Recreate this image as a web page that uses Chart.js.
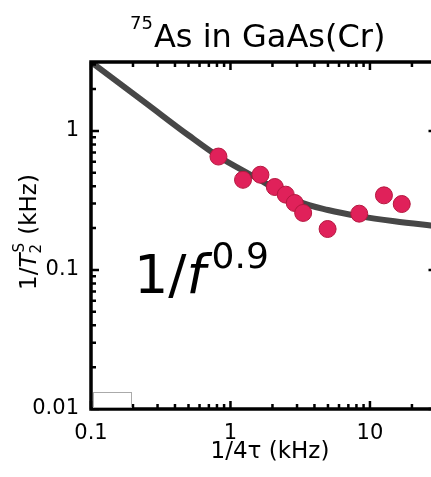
<!DOCTYPE html>
<html>
<head>
<meta charset="utf-8">
<script src="https://cdn.jsdelivr.net/npm/chart.js@4/dist/chart.umd.min.js"></script>
<style>
  body { margin: 0; overflow: hidden; background: #fff; }
  #wrap { width: 446px; height: 477px; }
</style>
</head>
<body>
<div id="wrap"><canvas id="chart" width="446" height="477"></canvas></div>
<script>
// measured points: 1/4tau (kHz) vs 1/T2 (kHz)
const freq = [0.82, 1.23, 1.64, 2.08, 2.49, 2.89, 3.32, 4.97, 8.38, 12.6, 16.9];
const rate = [0.654, 0.445, 0.484, 0.395, 0.348, 0.303, 0.257, 0.197, 0.254, 0.344, 0.298];

// fitted 1/f^0.9 curve
const fitFreq = [0.1, 0.25, 0.5, 0.81, 1.5, 3.1, 5, 8.5, 15, 30];
const fitRate = [3.13, 1.57, 0.93, 0.66, 0.465, 0.31, 0.27, 0.243, 0.224, 0.207];

const xTickLabels = ['0.1', '1', '10'];
const yTickLabels = ['0.01', '0.1', '1'];

const FONT = '"DejaVu Sans", sans-serif';

function pickLabel(list) {
  return function (v) {
    for (const s of list) {
      if (Math.abs(parseFloat(s) - v) < 1e-9 * Math.max(1, v)) return s;
    }
    return '';
  };
}

// inward ticks, frame, titles
const decor = {
  id: 'decor',
  afterDatasetsDraw(chart) {
    const ctx = chart.ctx;
    const a = chart.chartArea;
    const xs = chart.scales.x, ys = chart.scales.y;
    ctx.save();
    ctx.strokeStyle = '#000';
    ctx.lineWidth = 2.5;
    const logTicks = (sc) => {
      const out = [];
      for (let n = -3; n <= 3; n++) {
        for (let k = 1; k <= 9; k++) {
          const v = k * Math.pow(10, n);
          if (v >= sc.min * 0.9999 && v <= sc.max * 1.0001) out.push({ v: v, major: k === 1 });
        }
      }
      return out;
    };
    ctx.beginPath();
    logTicks(xs).forEach(t => {
      const p = xs.getPixelForValue(t.v);
      const len = t.major ? 8 : 5;
      ctx.moveTo(p, a.bottom); ctx.lineTo(p, a.bottom - len);
      ctx.moveTo(p, a.top); ctx.lineTo(p, a.top + len);
    });
    logTicks(ys).forEach(t => {
      const p = ys.getPixelForValue(t.v);
      const len = t.major ? 8 : 5;
      ctx.moveTo(a.left, p); ctx.lineTo(a.left + len, p);
      ctx.moveTo(a.right, p); ctx.lineTo(a.right - len, p);
    });
    ctx.stroke();

    // frame
    ctx.lineWidth = 3.5;
    ctx.strokeRect(a.left, a.top, a.right - a.left, a.bottom - a.top);

    // empty legend box
    ctx.lineWidth = 1;
    ctx.strokeStyle = '#aaa';
    ctx.strokeRect(a.left + 2.5, a.bottom - 16.5, 38, 15);
    ctx.restore();
  },
  afterDraw(chart) {
    const ctx = chart.ctx;
    ctx.save();
    ctx.fillStyle = '#000';
    ctx.textBaseline = 'alphabetic';

    // title  75As in GaAs(Cr)
    ctx.font = '18px ' + FONT;
    ctx.fillText('75', 130, 29);
    const w75 = ctx.measureText('75').width;
    ctx.font = '32px ' + FONT;
    ctx.fillText('As in GaAs(Cr)', 130 + w75 + 1, 47);

    // 1/f^0.9 label
    ctx.font = '54px ' + FONT;
    ctx.fillText('1/', 134, 293);
    let x = 134 + ctx.measureText('1/').width;
    ctx.font = 'italic 54px ' + FONT;
    ctx.fillText('f', x, 293);
    x += ctx.measureText('f').width + 6;
    ctx.font = '36px ' + FONT;
    ctx.fillText('0.9', x, 268);

    // x axis title
    ctx.font = '23px ' + FONT;
    ctx.textAlign = 'center';
    ctx.fillText('1/4\u03c4 (kHz)', 270, 458);

    // y axis title  1/T2^S (kHz)
    ctx.textAlign = 'left';
    ctx.translate(36, 290);
    ctx.rotate(-Math.PI / 2);
    ctx.font = '23px ' + FONT;
    ctx.fillText('1/', 0, 0);
    x = ctx.measureText('1/').width;
    ctx.font = 'italic 23px ' + FONT;
    ctx.fillText('T', x, 0);
    x += ctx.measureText('T').width;
    ctx.font = '15px ' + FONT;
    ctx.fillText('2', x, 5);
    ctx.fillText('S', x + 1, -12);
    x += Math.max(ctx.measureText('2').width, ctx.measureText('S').width) + 2;
    ctx.font = '23px ' + FONT;
    ctx.fillText(' (kHz)', x, 0);
    ctx.restore();
  }
};

new Chart(document.getElementById('chart'), {
  type: 'scatter',
  data: {
    datasets: [
      {
        label: 'data',
        data: freq.map((f, i) => ({ x: f, y: rate[i] })),
        pointRadius: 8.5,
        pointHoverRadius: 8.5,
        backgroundColor: '#e0215a',
        borderColor: '#b5173f',
        borderWidth: 1
      },
      {
        label: 'fit',
        type: 'line',
        data: fitFreq.map((f, i) => ({ x: f, y: fitRate[i] })),
        borderColor: '#474747',
        borderWidth: 6,
        pointRadius: 0,
        fill: false,
        cubicInterpolationMode: 'monotone'
      }
    ]
  },
  plugins: [decor],
  options: {
    responsive: false,
    animation: false,
    events: [],
    layout: { padding: { left: 0, top: 62, right: 4, bottom: 0 } },
    plugins: {
      legend: { display: false },
      title: { display: false },
      tooltip: { enabled: false }
    },
    scales: {
      x: {
        type: 'logarithmic',
        min: 0.1,
        max: 30,
        grid: { display: false },
        border: { display: false },
        ticks: {
          autoSkip: false,
          maxRotation: 0,
          padding: 4,
          color: '#000',
          font: { family: FONT, size: 21 },
          callback: pickLabel(xTickLabels)
        },
        afterFit(scale) {
          scale.height = 68;
          scale.paddingLeft = 0;
          scale.paddingRight = 0;
        }
      },
      y: {
        type: 'logarithmic',
        min: 0.01,
        max: 3.13,
        grid: { display: false },
        border: { display: false },
        ticks: {
          autoSkip: false,
          padding: 4,
          color: '#000',
          font: { family: FONT, size: 21 },
          callback: pickLabel(yTickLabels)
        },
        afterFit(scale) {
          scale.width = 91;
          scale.paddingTop = 0;
          scale.paddingBottom = 0;
        }
      }
    }
  }
});
</script>
</body>
</html>
